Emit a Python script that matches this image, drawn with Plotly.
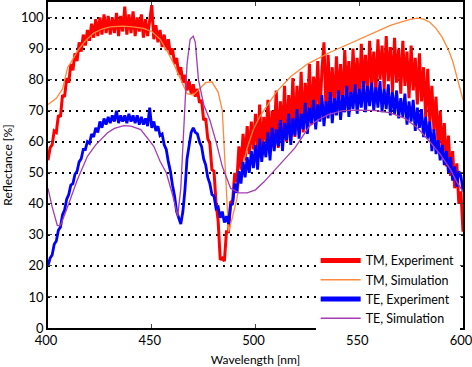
import plotly.graph_objects as go

# ---------------- data ----------------
wl_exp = list(range(400, 601))

tm_experiment = [
    54, 58, 59, 63.5, 63, 68.5, 68, 75, 74.5, 80.5,
    79, 85, 83, 88.5, 86, 92, 89, 94.5, 91, 96,
    92.5, 98, 93.5, 99.5, 94, 100, 94.5, 101, 95, 100.5,
    94.5, 100, 95, 101.5, 94, 100.5, 95.5, 103.5, 94.5, 101,
    95, 102, 94, 100, 95.5, 101, 93.5, 99.5, 94, 100,
    104, 93, 97.5, 92, 96, 90.5, 94.5, 89.5, 93, 88,
    90, 85, 87, 81.5, 84, 79, 81.5, 76.5, 79.5, 75.5,
    78.5, 74.5, 77, 72.5, 73.5, 67, 67.5, 61, 59.5, 51,
    50.5, 40, 34.5, 22, 22.5, 21.5, 31, 31, 40.5, 41,
    50, 47, 58.5, 51, 62.5, 54, 65, 56, 66.5, 57.5,
    69, 57, 72, 55.5, 68, 60, 73.5, 57, 70, 61,
    76.5, 58, 73, 62, 78, 60, 75, 64, 80.5, 61.5,
    78, 66, 82.5, 63, 79, 68, 85, 65.5, 81, 70,
    86, 67, 83, 92, 69, 88, 72, 84, 70, 87.5,
    73, 85, 70, 89.5, 75, 86, 71.5, 90, 76, 87,
    73, 91.5, 77, 88, 74, 92.5, 78.5, 89, 75, 93,
    80, 91, 77, 94, 79.5, 90.5, 76, 93.5, 79, 90,
    75.5, 92.5, 78, 89, 74, 91, 76.5, 87, 72, 88.5,
    73, 84, 68, 83.5, 66, 78, 63.5, 74.5, 58, 70,
    56, 66, 52, 62, 49, 57, 45, 53, 40, 44,
    31,
]

te_experiment = [
    20, 22.5, 23.5, 27, 28, 31.5, 32.5, 36.5, 38, 41.5,
    43, 46, 46.5, 49.5, 50.5, 53.5, 54.5, 57.5, 57.5, 60,
    59.5, 62.5, 61.5, 64.5, 63, 66.5, 64.5, 67.5, 65.5, 68,
    66, 68.5, 66.5, 70, 66, 68.5, 66.5, 68.5, 66, 69,
    66.5, 68.5, 66, 68.5, 65.5, 68, 65.5, 67.5, 65, 71,
    64.5, 66.5, 63.5, 65, 62, 62.5, 59, 57.5, 53.5, 50.5,
    46, 42.5, 37.5, 35.5, 33.5, 37.5, 44.5, 54.5, 58.5, 63,
    64.5, 63, 62.5, 60, 58.5, 54.5, 52.5, 48.5, 46.5, 43,
    42.5, 38.5, 39, 35.5, 37.5, 34, 36, 33.5, 39.5, 40,
    46.5, 43.5, 50.5, 46.5, 53.5, 48.5, 55, 50, 57, 51.5,
    59, 51, 61, 53.5, 60, 55, 63, 54, 64.5, 57,
    64, 58.5, 67, 57, 66, 60.5, 69, 59, 67.5, 62,
    70.5, 61, 69, 64, 72.5, 62.5, 71, 66, 73.5, 64,
    72, 66.5, 75, 65, 73, 67.5, 76, 66, 74, 68.5,
    76.5, 67, 75, 69.5, 78, 68, 76, 70.5, 78.5, 69,
    77, 71, 79.5, 69.5, 78, 71.5, 79, 70, 77.5, 71,
    79.5, 69.5, 77, 70.5, 78.5, 68.5, 76, 69, 76.5, 67.5,
    74, 68, 75.5, 65.5, 73, 66.5, 73.5, 63.5, 71, 64.5,
    70.5, 61.5, 68, 61, 66.5, 57, 64, 56, 60.5, 54,
    59, 52.5, 57, 50, 55, 47.5, 52, 45.5, 50.5, 49,
    44,
]

wl_tm_sim = [400, 404, 407, 409.5, 411, 414.5, 418, 422, 426, 430, 436, 441, 446, 450,
             454, 458, 461, 464, 467, 470, 473, 476, 479, 482, 484, 485, 486, 487, 489,
             491, 493, 496, 499, 502, 506, 510, 517, 525, 535, 545, 555, 565, 570, 575,
             578, 581, 584, 587, 590, 593, 595, 597, 600]
tm_simulation = [72, 74, 77, 84, 85.5, 89.5, 92.5, 95, 96.3, 97, 97.2, 97, 96.5, 95.5,
                 93, 88.5, 84.5, 80, 75.5, 75, 77, 79, 79.3, 76, 70, 57, 40, 31, 36,
                 41.5, 50, 58, 64, 68, 72, 76, 81, 85, 88.5, 91.5, 94.5, 97.5, 98.5, 99.5,
                 99.8, 99.5, 98.5, 96.5, 93.6, 89.5, 86, 81, 73.5]

wl_te_sim = [400, 402, 404.5, 406, 410, 414, 419, 423, 428.7, 432, 436.5, 440, 444.7,
             448, 451, 454, 457, 460, 462.5, 464, 465.5, 467, 468.5, 470, 471, 472.5,
             475, 478, 481, 484, 488, 492, 496, 500, 504, 508, 512, 516, 519, 522, 526,
             530, 535, 542, 550, 558, 565, 572, 578, 584, 589, 594, 597, 600]
te_simulation = [45, 39, 33, 33, 40, 47.5, 55.3, 59, 62.9, 64.3, 65.2, 65, 63.9,
                 61, 58.5, 53.7, 50, 43, 36, 45, 65, 85, 93, 94, 92, 80,
                 72, 67, 60, 52, 45, 43.5, 43.5, 44.5, 47, 50, 53, 56, 58, 61, 65,
                 67, 68.7, 70, 70.2, 70, 69.3, 67.5, 64.5, 60, 56, 51, 47, 44]

x_ticks = [400, 450, 500, 550, 600]
y_ticks = [0, 10, 20, 30, 40, 50, 60, 70, 80, 90, 100]

# ---------------- figure ----------------
RED = "#ff0000"
ORANGE = "#ff8a3d"
BLUE = "#0000ff"
PURPLE = "#a43cb4"

fig = go.Figure()
fig.add_trace(go.Scatter(x=wl_exp, y=tm_experiment, mode="lines",
                         line=dict(color=RED, width=3), showlegend=False))
fig.add_trace(go.Scatter(x=wl_tm_sim, y=tm_simulation, mode="lines",
                         line=dict(color=ORANGE, width=1.3), showlegend=False))
fig.add_trace(go.Scatter(x=wl_exp, y=te_experiment, mode="lines",
                         line=dict(color=BLUE, width=2.8), showlegend=False))
fig.add_trace(go.Scatter(x=wl_te_sim, y=te_simulation, mode="lines",
                         line=dict(color=PURPLE, width=1.3), showlegend=False))

# legend entries
for name, col, w in [("TM, Experiment", RED, 5), ("TM, Simulation", ORANGE, 1.5),
                     ("TE, Experiment", BLUE, 5), ("TE, Simulation", PURPLE, 1.5)]:
    fig.add_trace(go.Scatter(x=[None], y=[None], mode="lines", name=name,
                             line=dict(color=col, width=w)))

FONT = "Lato"
fig.update_layout(
    width=472, height=367,
    margin=dict(l=47.5, r=8.7, t=2, b=39, autoexpand=False),
    paper_bgcolor="white", plot_bgcolor="white",
    font=dict(family=FONT, size=13, color="black"),
    showlegend=True,
    legend=dict(x=0.645, y=-0.015, xanchor="left", yanchor="bottom",
                bgcolor="white", borderwidth=0, itemwidth=40,
                font=dict(family=FONT, size=12.5, color="black"),
                tracegroupgap=0, itemclick=False),
    xaxis=dict(range=[400, 600], tickvals=x_ticks, ticks="inside", ticklen=4,
               showline=True, linecolor="black", linewidth=1.5, mirror="ticks",
               showgrid=False, zeroline=False, automargin=False,
               ticklabeloverflow="allow", ticklabelshift=-2,
               title=dict(text="Wavelength [nm]", font=dict(size=12)),
               tickfont=dict(size=13)),
    yaxis=dict(range=[0, 105], tickvals=y_ticks, ticks="inside", ticklen=4,
               showline=True, linecolor="black", linewidth=1.5, mirror="ticks",
               showgrid=True, gridcolor="black", gridwidth=1.6, griddash="2px,5px",
               zeroline=False, automargin=False,
               title=dict(text="Reflectance [%]", font=dict(size=12)),
               tickfont=dict(size=13)),
)

fig.write_html("out.html", config={"displayModeBar": False},
               post_script="document.body.style.margin='0';document.body.style.overflow='hidden';")
